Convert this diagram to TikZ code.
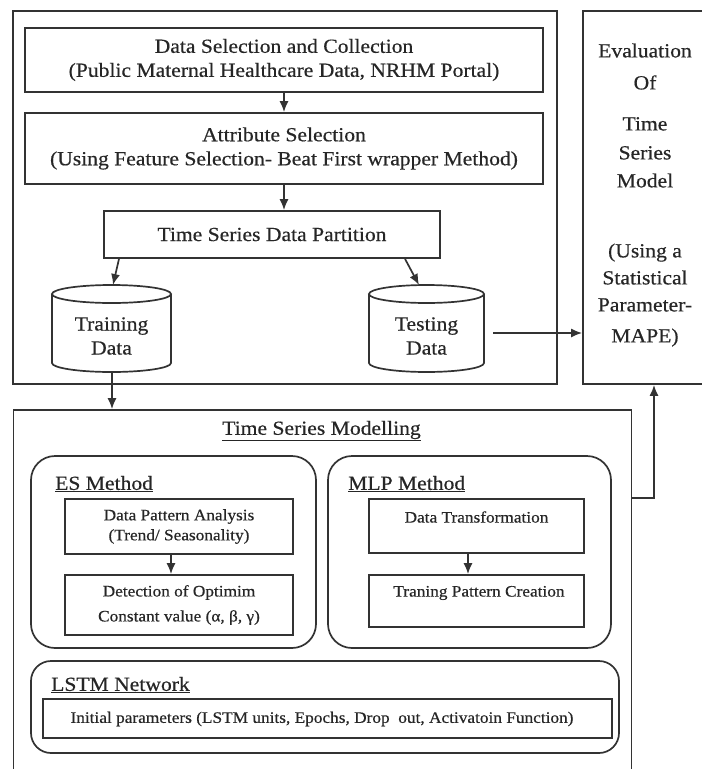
\documentclass[tikz,border=0pt]{standalone}
\usepackage{fontspec}
\setmainfont{Liberation Serif}[FakeStretch=1.08,FakeBold=0.5]
\usetikzlibrary{arrows.meta}
\begin{document}
\begin{tikzpicture}[x=1pt,y=-1pt,
  ln/.style={draw=black!80,line width=1.7pt},
  box/.style={ln,rectangle,inner sep=0pt},
  rbox/.style={ln,rectangle,rounded corners=24pt,inner sep=0pt},
  big/.style={font=\fontsize{20}{24}\selectfont,inner sep=0pt,align=center,text=black!85},
  small/.style={font=\fontsize{16}{20}\selectfont,inner sep=0pt,align=center,text=black!85},
  arr/.style={ln,-{Latex[length=11pt,width=9pt]}}]
\useasboundingbox (0,0) rectangle (702,769);
% top frame
\node[box,minimum width=544pt,minimum height=373pt] (topframe) at (285,197.5) {};
\node[box,big,minimum width=518pt,minimum height=64pt] (ds) at (284,60)
  {Data Selection and Collection\\(Public Maternal Healthcare Data, NRHM Portal)};
\node[box,big,minimum width=518pt,minimum height=71pt] (attr) at (284,148.5)
  {Attribute Selection\\(Using Feature Selection- Beat First wrapper Method)};
\node[box,big,minimum width=336pt,minimum height=47pt] (part) at (272,234.5)
  {Time Series Data Partition};
\draw[arr] (ds.south) -- (attr.north);
\draw[arr] (attr.south) -- (attr.south |- part.north);
% cylinders
\draw[ln] (111.5,294) ellipse [x radius=59.5pt,y radius=9pt];
\draw[ln] (52,294) -- (52,363) arc[start angle=180,end angle=360,x radius=59.5pt,y radius=9pt] -- (171,294);
\node[big] (train) at (111.5,336) {Training\\Data};
\draw[ln] (426.5,294) ellipse [x radius=57.5pt,y radius=9pt];
\draw[ln] (369,294) -- (369,363) arc[start angle=180,end angle=360,x radius=57.5pt,y radius=9pt] -- (484,294);
\node[big] (test) at (426.5,336) {Testing\\Data};
\coordinate (traintop) at (113,285);
\coordinate (testtop) at (419,285);
\coordinate (trainbot) at (112,372);
\draw[arr] ([xshift=-153pt]part.south) -- (traintop);
\draw[arr] ([xshift=133pt]part.south) -- (testtop);
% evaluation box
\node[box,minimum width=140pt,minimum height=373pt] (eval) at (653,197.5) {};
\node[big] (evaltxt) at (645,43.3) [anchor=north]
  {Evaluation\\[8pt]Of\\[17pt]Time\\[5pt]Series\\[4pt]Model\\[46pt](Using a\\[3pt]Statistical\\[3pt]Parameter-\\[7pt]MAPE)};
\coordinate (testout) at (493,333);
\draw[arr] (testout) -- (testout -| eval.west);
% modelling frame
\node[box,minimum width=618pt,minimum height=380pt] (model) at (322.5,600) {};
\draw[arr] (trainbot) -- (trainbot |- model.north);
\coordinate (modout) at (model.east |- 0,498);
\draw[arr] (modout) -- (654,498) -- (654,0 |- eval.south);
\node[big] (modtitle) at (321.5,431) {\underline{Time Series Modelling}};
% ES
\node[rbox,minimum width=285pt,minimum height=192pt] (es) at (173.5,552) {};
\node[big,anchor=west] (estitle) at (55,484) {\underline{ES Method}};
\node[box,small,minimum width=228pt,minimum height=55pt] (dpa) at (179,526.5)
  {Data Pattern Analysis\\(Trend/ Seasonality)};
\node[box,small,minimum width=228pt,minimum height=60pt] (det) at (179,605)
  {Detection of Optimim\\[5pt]Constant value (α, β, γ)};
\draw[arr] ([xshift=-8pt]dpa.south) -- ([xshift=-8pt]det.north);
% MLP
\node[rbox,minimum width=283pt,minimum height=192pt] (mlp) at (469.5,552) {};
\node[big,anchor=west] (mlptitle) at (348,484) {\underline{MLP Method}};
\node[box,minimum width=215pt,minimum height=54pt] (dt) at (476.5,526) {};
\node[small] (dttxt) at (476.5,517) {Data Transformation};
\node[box,minimum width=215pt,minimum height=52pt] (tpc) at (476.5,601) {};
\node[small] (tpctxt) at (479,593) {Traning Pattern Creation};
\draw[arr] ([xshift=-8.5pt]dt.south) -- ([xshift=-8.5pt]tpc.north);
% LSTM
\node[rbox,rounded corners=20pt,minimum width=588pt,minimum height=92pt] (lstm) at (325,707) {};
\node[big,anchor=west] (lstmtitle) at (51,685) {\underline{LSTM Network}};
\node[box,minimum width=569pt,minimum height=39pt] (ip) at (327.5,718.5) {};
\node[small] (iptxt) at (322,719) {Initial parameters (LSTM units, Epochs, Drop\ \ out, Activatoin Function)};
\end{tikzpicture}
\end{document}
